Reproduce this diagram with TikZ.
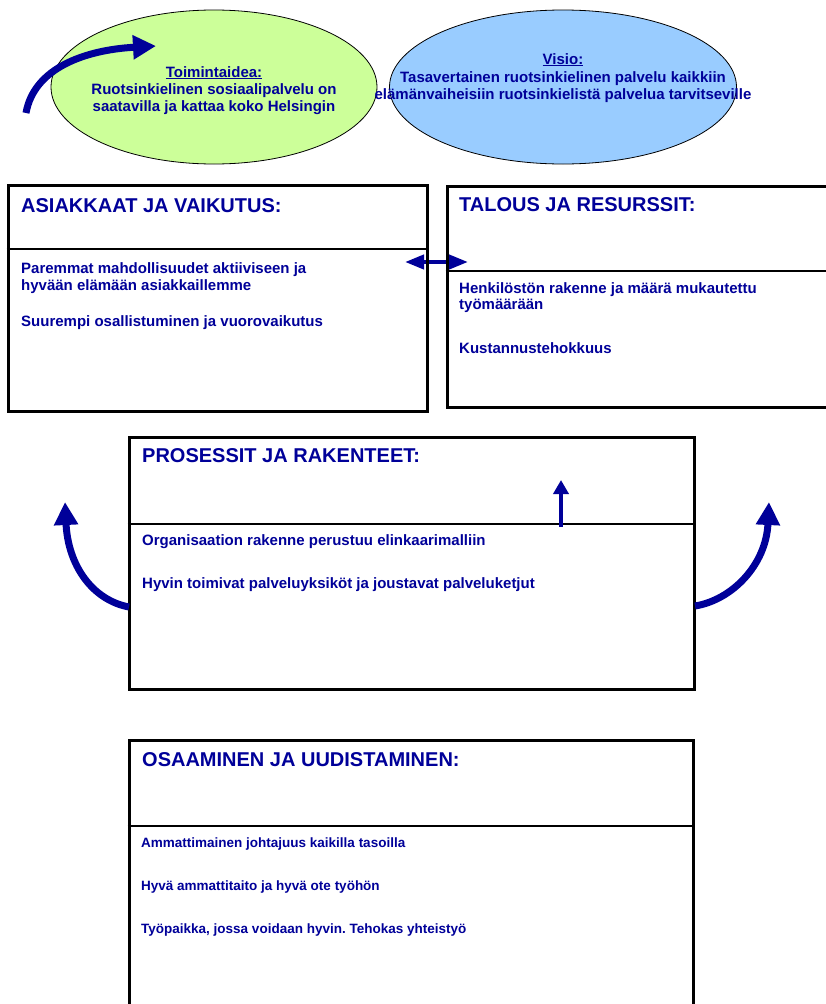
\documentclass[tikz,border=0pt]{standalone}
\usepackage{fontspec}
\setmainfont{Liberation Sans}
\usetikzlibrary{arrows.meta}
\usetikzlibrary{positioning}
\usetikzlibrary{shapes.geometric}
\definecolor{navy}{RGB}{0,0,153}
\definecolor{ideagreen}{RGB}{204,255,153}
\definecolor{visioblue}{RGB}{153,204,255}
\frenchspacing

\begin{document}
\begin{tikzpicture}[x=1pt, y=-1pt,
  box/.style={draw, line width=3pt, inner sep=0pt},
  divider/.style={line width=1.5pt},
  oval/.style={ellipse, draw, line width=0.8pt, inner sep=0pt},
  ovaltext/.style={anchor=base, inner sep=0pt, text=navy, font=\fontsize{15}{17}\selectfont\bfseries},
  title/.style={anchor=base west, inner sep=0pt, text=navy, font=\fontsize{20}{24}\selectfont\bfseries},
  body/.style={anchor=base west, inner sep=0pt, text=navy, font=\fontsize{15}{17}\selectfont\bfseries},
  smallbody/.style={body, font=\fontsize{13.5}{16}\selectfont\bfseries},
  flow/.style={draw=navy, line width=7pt, -{Triangle[length=23pt, width=23pt]}}]

\useasboundingbox (0,0) rectangle (826,1004);
\fill[white] (0,0) rectangle (826,1004);
\clip (0,0) rectangle (826,1004);

% ovals
\node[oval, fill=ideagreen, minimum width=326pt, minimum height=154pt] (idea) at (214,87) {};
\node[oval, fill=visioblue, minimum width=347pt, minimum height=154pt] (visio) at (563,87) {};
\foreach \y/\txt [count=\i] in {77/{\underline{Toimintaidea:}}, 94/{Ruotsinkielinen sosiaalipalvelu on}, 111/{saatavilla ja kattaa koko Helsingin}}
  \node[ovaltext] (idea-\i) at (214,\y) {\txt};
\foreach \y/\txt [count=\i] in {64/{\underline{Visio:}}, 82/{Tasavertainen ruotsinkielinen palvelu kaikkiin}, 99/{elämänvaiheisiin ruotsinkielistä palvelua tarvitseville}}
  \node[ovaltext] (visio-\i) at (563,\y) {\txt};

\coordinate (idea-from) at (26,113);
\coordinate (idea-to) at (156,46);
\draw[flow] (idea-from) .. controls (34,68) and (85,50) .. (idea-to);

% link between the upper boxes
\coordinate (link-l) at (405,262);
\coordinate (link-r) at (468,262);
\draw[draw=navy, line width=4pt, {Triangle[length=19pt, width=14pt]}-{Triangle[length=19pt, width=14pt]}] (link-l) -- (link-r);

% boxes
\node[box, minimum width=419pt, minimum height=226pt] (asiak) at (217.5,298) {};
\node[box, minimum width=393pt, minimum height=221pt] (talous) at (643.5,296.5) {};
\node[box, minimum width=565pt, minimum height=252pt] (prosessit) at (411.5,563) {};
\node[box, minimum width=564pt, minimum height=290pt] (osaam) at (411,885) {};

\draw[divider] (asiak.west |- 0,249) -- (asiak.east |- 0,249);
\draw[divider] (talous.west |- 0,271) -- (talous.east |- 0,271);
\draw[divider] (prosessit.west |- 0,524) -- (prosessit.east |- 0,524);
\draw[divider] (osaam.west |- 0,826) -- (osaam.east |- 0,826);

% texts
\node[title] (asiak-t) at (21,212) {ASIAKKAAT JA VAIKUTUS:};
\foreach \y/\txt [count=\i] in {273/{Paremmat mahdollisuudet aktiiviseen ja}, 290/{hyvään elämään asiakkaillemme}, 326/{Suurempi osallistuminen ja vuorovaikutus}}
  \node[body] (asiak-\i) at (21,\y) {\txt};

\node[title] (talous-t) at (459,211) {TALOUS JA RESURSSIT:};
\foreach \y/\txt [count=\i] in {293/{Henkilöstön rakenne ja määrä mukautettu}, 309/{työmäärään}, 353/{Kustannustehokkuus}}
  \node[body] (talous-\i) at (459,\y) {\txt};

\node[title] (prosessit-t) at (142,462) {PROSESSIT JA RAKENTEET:};
\foreach \y/\txt [count=\i] in {545/{Organisaation rakenne perustuu elinkaarimalliin}, 588/{Hyvin toimivat palveluyksiköt ja joustavat palveluketjut}}
  \node[body] (prosessit-\i) at (142,\y) {\txt};

\node[title] (osaam-t) at (142,766) {OSAAMINEN JA UUDISTAMINEN:};
\foreach \y/\txt [count=\i] in {847/{Ammattimainen johtajuus kaikilla tasoilla}, 890/{Hyvä ammattitaito ja hyvä ote työhön}, 933/{Työpaikka, jossa voidaan hyvin. Tehokas yhteistyö}}
  \node[smallbody] (osaam-\i) at (141,\y) {\txt};

% arrows of the process box
\coordinate (up-from) at (561,527);
\coordinate (up-to) at (561,480);
\draw[draw=navy, line width=4.5pt, -{Triangle[length=14pt, width=15pt]}] (up-from) -- (up-to);

\coordinate (left-from) at (129,607);
\coordinate (left-to) at (65,502);
\draw[flow] (left-from) .. controls (92,600) and (68,565) .. (left-to);

\coordinate (right-from) at (695,606);
\coordinate (right-to) at (769,502);
\draw[flow] (right-from) .. controls (732,600) and (766,565) .. (right-to);
\end{tikzpicture}
\end{document}
